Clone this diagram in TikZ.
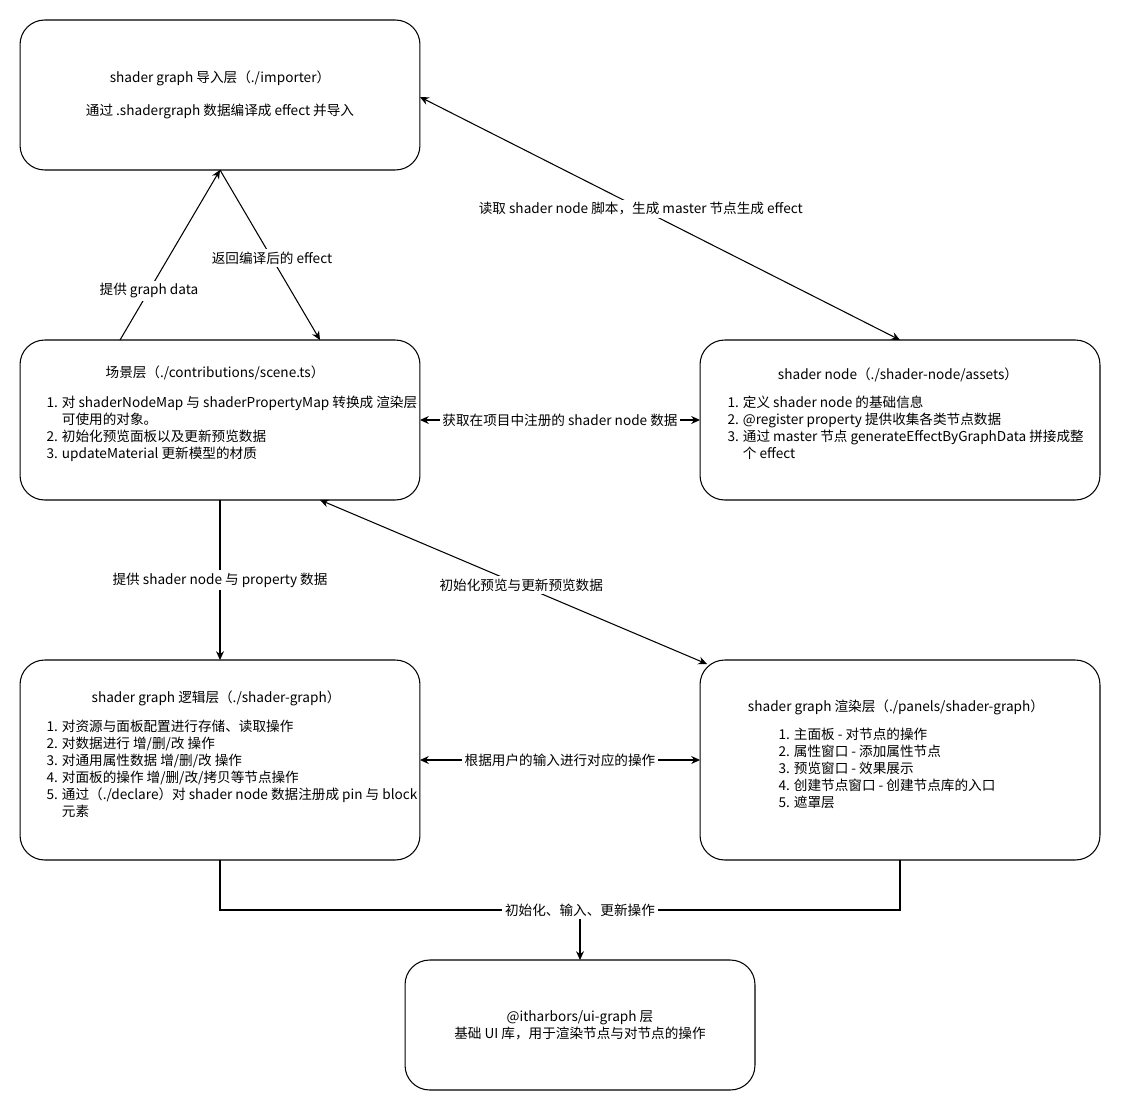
\documentclass[tikz,border=0pt]{standalone}
\usepackage{fontspec}
\setmainfont{Noto Sans CJK SC}
\usetikzlibrary{arrows.meta, calc, positioning}

\tikzset{
  layer/.style={draw, rounded corners=14pt, inner sep=0pt, outer sep=0pt},
  lbl/.style={fill=white, inner sep=1.5pt},
  items/.style={align=left, anchor=north west, inner sep=0pt},
}

\begin{document}
\begin{tikzpicture}[x=0.02cm, y=-0.02cm, line width=0.6pt,
    >={Stealth[length=5pt, width=4.5pt]},
    font=\fontsize{7.75pt}{9.7pt}\selectfont]
    \useasboundingbox (0,0) rectangle (1121,1111);

    % 1. The layer boxes
    \node[layer, minimum width=8cm, minimum height=3cm] (imp) at (220,95) {};
    \node[layer, minimum width=8cm, minimum height=3.2cm] (scene) at (220,420) {};
    \node[layer, minimum width=8cm, minimum height=3.2cm] (assets) at (900,420) {};
    \node[layer, minimum width=8cm, minimum height=4cm] (logic) at (220,760) {};
    \node[layer, minimum width=8cm, minimum height=4cm] (render) at (900,760) {};
    \node[layer, minimum width=7cm, minimum height=2.6cm] (ui) at (580,1025) {};

    % 2. Texts inside the boxes
    \node[align=center] (impText) at (imp) {shader graph 导入层（./importer）\\[9pt]通过 .shadergraph 数据编译成 effect 并导入};

    \node (sceneTitle) at (215,373) {场景层（./contributions/scene.ts）};
    \node[items] (sceneList) at (46,395) {1. 对 shaderNodeMap 与 shaderPropertyMap 转换成 渲染层\\\phantom{1. }可使用的对象。\\2. 初始化预览面板以及更新预览数据\\3. updateMaterial 更新模型的材质};

    \node (assetsTitle) at (898,375) {shader node（./shader-node/assets）};
    \node[items] (assetsList) at (727,395) {1. 定义 shader node 的基础信息\\2. @register property 提供收集各类节点数据\\3. 通过 master 节点 generateEffectByGraphData 拼接成整\\\phantom{3. }个 effect};

    \node (logicTitle) at (216,698) {shader graph 逻辑层（./shader-graph）};
    \node[items] (logicList) at (46,719) {1. 对资源与面板配置进行存储、读取操作\\2. 对数据进行 增/删/改 操作\\3. 对通用属性数据 增/删/改 操作\\4. 对面板的操作 增/删/改/拷贝等节点操作\\5. 通过（./declare）对 shader node 数据注册成 pin 与 block\\\phantom{5. }元素};

    \node (renderTitle) at (896,707) {shader graph 渲染层（./panels/shader-graph）};
    \node[items] (renderList) at (778,727) {1. 主面板 - 对节点的操作\\2. 属性窗口 - 添加属性节点\\3. 预览窗口 - 效果展示\\4. 创建节点窗口 - 创建节点库的入口\\5. 遮罩层};

    \node[align=center] (uiText) at (ui) {@itharbors/ui-graph 层\\基础 UI 库，用于渲染节点与对节点的操作};

    % 3. Connectors between the layers
    \coordinate (sceneUp) at ($(scene.north)+(-100,0)$);
    \coordinate (sceneDown) at ($(scene.north)+(100,0)$);
    \coordinate (sceneOut) at ($(scene.south)+(100,0)$);
    \coordinate (impOut) at ($(imp.east)+(0,2)$);
    \coordinate (renderIn) at ($(render.north west)+(7,4)$);
    \coordinate (join) at ($(logic.south)+(360,50)$);

    \draw[->] (sceneUp) -- node[lbl, pos=0.29] (gdLabel) {提供 graph data} (imp.south);
    \draw[->] (imp.south) -- node[lbl, pos=0.52] (effLabel) {返回编译后的 effect} (sceneDown);
    \draw[<->] (impOut) -- node[lbl, pos=0.46] (readLabel) {读取 shader node 脚本，生成 master 节点生成 effect} (assets.north);
    \draw[<->] (scene.east) -- node[lbl] (regLabel) {获取在项目中注册的 shader node 数据} (assets.west);
    \draw[->] (scene.south) -- node[lbl] (provLabel) {提供 shader node 与 property 数据} (logic.north);
    \draw[<->] (sceneOut) -- node[lbl, pos=0.52] (initLabel) {初始化预览与更新预览数据} (renderIn);
    \draw[<->] (logic.east) -- node[lbl] (userLabel) {根据用户的输入进行对应的操作} (render.west);

    % 4. Both lower layers feed the ui-graph layer
    \draw (logic.south) -- ++(0,50) -| (render.south);
    \node[lbl] (opLabel) at (join) {初始化、输入、更新操作};
    \draw[->] (opLabel.south) -- (ui.north);
\end{tikzpicture}
\end{document}
